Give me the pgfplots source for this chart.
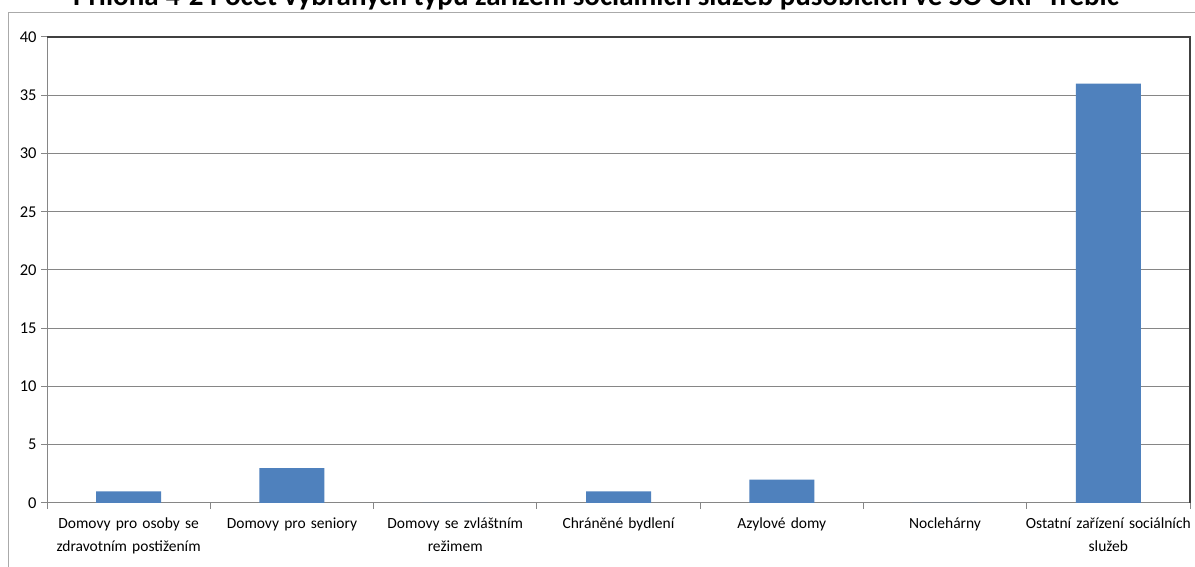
\documentclass[border=0pt]{standalone}
\usepackage{pgfplots}
\pgfplotsset{compat=1.18}
\usepackage{fontspec}
\setmainfont{Carlito}
\definecolor{barblue}{RGB}{79,129,189}
\definecolor{gridgray}{RGB}{134,134,134}
\definecolor{framedark}{RGB}{64,64,64}
\begin{document}
\begin{tikzpicture}[x=1bp,y=1bp]
\useasboundingbox (0,0) rectangle (1195,567);
\fill[white] (0,0) rectangle (1195,567);
\draw[gridgray!70,line width=1bp] (8,0) -- (8,554) -- (1195,554);
\node[anchor=base,font=\fontsize{29bp}{34bp}\selectfont\bfseries,inner sep=0pt] at (596,561) {Příloha 4-2 Počet vybraných typů zařízení sociálních služeb působících ve SO ORP Třebíč};
\begin{axis}[
  at={(47bp,64bp)}, anchor=south west,
  width=1143bp, height=466bp, scale only axis,
  xmin=-0.5, xmax=6.5, ymin=0, ymax=40,
  ytick={0,5,...,40},
  xtick={0,...,6},
  xticklabels={{Domovy pro osoby se\\zdravotním postižením},{Domovy pro seniory},{Domovy se zvláštním\\režimem},{Chráněné bydlení},{Azylové domy},{Noclehárny},{Ostatní zařízení sociálních\\služeb}},
  minor xtick={-0.5,0.5,...,6.5},
  axis x line*=bottom, axis y line*=left,
  axis line style={gridgray,line width=1bp,-},
  ymajorgrids, grid style={gridgray,line width=1bp},
  major x tick style={draw=none},
  minor tick length=6bp, major tick length=6bp,
  tick align=outside,
  every tick/.style={gridgray,line width=1bp},
  xticklabel style={font=\fontsize{15.5bp}{23bp}\selectfont, align=center, text width=175bp, yshift=-5bp},
  yticklabel style={font=\fontsize{16.5bp}{19bp}\selectfont, xshift=-1bp},
  /pgf/number format/assume math mode=true,
  ybar, bar width=65bp,
  clip=false,
]
\addplot[fill=barblue, draw=none] coordinates {(0,1) (1,3) (2,0) (3,1) (4,2) (5,0) (6,36)};
\draw[framedark,line width=1.5bp] (rel axis cs:0,1) -- (rel axis cs:1,1) -- (rel axis cs:1,0);
\end{axis}
\end{tikzpicture}
\end{document}
